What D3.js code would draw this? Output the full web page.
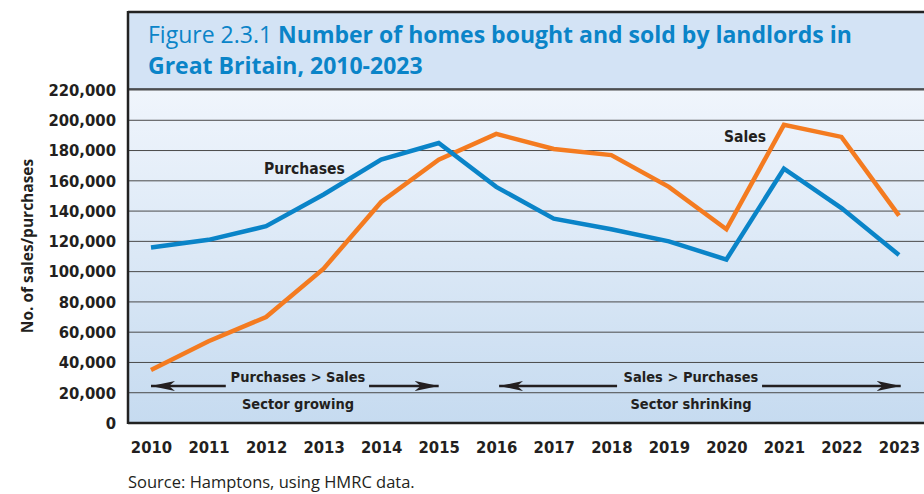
<!DOCTYPE html>
<html>
<head>
<meta charset="utf-8">
<script src="https://cdn.jsdelivr.net/npm/d3@7"></script>
<style>
  body { margin: 0; background: #fff; }
  svg { display: block; }
</style>
</head>
<body>
<script>
// values
var years = [2010, 2011, 2012, 2013, 2014, 2015, 2016, 2017, 2018, 2019, 2020, 2021, 2022, 2023];
var purchases = [116000, 121000, 130000, 151000, 174000, 185000, 156000, 135000, 128000, 120000, 108000, 168000, 142000, 111000];
var sales = [35000, 54000, 70000, 102000, 146000, 174000, 191000, 181000, 177000, 156000, 128000, 197000, 189000, 137000];
var yTicks = [0, 20000, 40000, 60000, 80000, 100000, 120000, 140000, 160000, 180000, 200000, 220000];

var W = 924, H = 494;
var frame = {left: 128, top: 12, headBottom: 89, bottom: 423};
var narrow = "'DejaVu Sans Condensed', 'Liberation Sans Narrow', sans-serif";
var sans = "'Open Sans', 'Noto Sans', sans-serif";

var svg = d3.select("body").append("svg").attr("width", W).attr("height", H);

var defs = svg.append("defs");
var grad = defs.append("linearGradient").attr("id", "bg").attr("x1", 0).attr("y1", 0).attr("x2", 0).attr("y2", 1);
grad.append("stop").attr("offset", "0%").attr("stop-color", "#f0f5fc");
grad.append("stop").attr("offset", "100%").attr("stop-color", "#c6dbf0");

var x = d3.scaleLinear().domain([2010, 2023]).range([151, 899]);
var y = d3.scaleLinear().domain([0, 220000]).range([frame.bottom, frame.headBottom + 1]);

// header band
svg.append("rect").attr("x", frame.left).attr("y", frame.top)
  .attr("width", W - frame.left + 5).attr("height", frame.headBottom - frame.top)
  .attr("fill", "#d3e3f5");

// plot background
svg.append("rect").attr("x", frame.left).attr("y", frame.headBottom)
  .attr("width", W - frame.left + 5).attr("height", frame.bottom - frame.headBottom)
  .attr("fill", "url(#bg)");

// gridlines
svg.append("g").selectAll("line").data(yTicks.slice(1)).join("line")
  .attr("x1", frame.left).attr("x2", W)
  .attr("y1", function(d) { return y(d); }).attr("y2", function(d) { return y(d); })
  .attr("stroke", "#4a4a4a").attr("stroke-width", 1);

// frame lines
svg.append("line").attr("x1", frame.left).attr("x2", W).attr("y1", frame.top).attr("y2", frame.top)
  .attr("stroke", "#222").attr("stroke-width", 2.5);
svg.append("line").attr("x1", frame.left).attr("x2", W).attr("y1", frame.headBottom).attr("y2", frame.headBottom)
  .attr("stroke", "#333").attr("stroke-width", 1.5);
svg.append("line").attr("x1", frame.left).attr("x2", W).attr("y1", frame.bottom).attr("y2", frame.bottom)
  .attr("stroke", "#222").attr("stroke-width", 2.5);
svg.append("line").attr("x1", frame.left).attr("x2", frame.left).attr("y1", frame.top - 1).attr("y2", frame.bottom + 1)
  .attr("stroke", "#222").attr("stroke-width", 2.5);

// title
var title = svg.append("text").attr("x", 148).attr("y", 43)
  .attr("font-family", sans).attr("font-size", 23).attr("fill", "#0a84c8");
title.append("tspan").attr("font-weight", 400).text("Figure 2.3.1 ");
title.append("tspan").attr("font-weight", 700).text("Number of homes bought and sold by landlords in");
svg.append("text").attr("x", 148).attr("y", 74)
  .attr("font-family", sans).attr("font-size", 23).attr("font-weight", 700).attr("fill", "#0a84c8")
  .text("Great Britain, 2010-2023");

// y axis labels
var yAxis = d3.axisLeft(y).tickValues(yTicks).tickSize(0).tickPadding(12)
  .tickFormat(function(d) { return d === 0 ? "0" : d3.format(",")(d); });
var gy = svg.append("g").attr("transform", "translate(" + frame.left + ",0)").call(yAxis);
gy.select(".domain").remove();
gy.selectAll("text").attr("font-family", narrow).attr("font-size", 16.5).attr("font-weight", 700).attr("fill", "#231f20");

// x axis labels
var xAxis = d3.axisBottom(x).tickValues(years).tickSize(0).tickPadding(18).tickFormat(d3.format("d"));
var gx = svg.append("g").attr("transform", "translate(0," + frame.bottom + ")").call(xAxis);
gx.select(".domain").remove();
gx.selectAll("text").attr("font-family", narrow).attr("font-size", 16.5).attr("font-weight", 700).attr("fill", "#231f20");

// y axis title
svg.append("text").attr("transform", "translate(33,246) rotate(-90)")
  .attr("text-anchor", "middle").attr("font-family", sans).attr("font-size", 15.5).attr("font-weight", 700)
  .attr("fill", "#231f20").text("No. of sales/purchases");

// lines
var line = d3.line().x(function(d, i) { return x(years[i]); }).y(function(d) { return y(d); });
svg.append("path").datum(sales).attr("d", line).attr("fill", "none")
  .attr("stroke", "#f47b20").attr("stroke-width", 4.5).attr("stroke-linejoin", "miter");
svg.append("path").datum(purchases).attr("d", line).attr("fill", "none")
  .attr("stroke", "#0a84c8").attr("stroke-width", 4.5).attr("stroke-linejoin", "miter");

// series labels
svg.append("text").attr("x", 264).attr("y", 174).attr("font-family", narrow).attr("font-size", 15.5)
  .attr("font-weight", 700).attr("fill", "#231f20").text("Purchases");
svg.append("text").attr("x", 724).attr("y", 142).attr("font-family", narrow).attr("font-size", 15.5)
  .attr("font-weight", 700).attr("fill", "#231f20").text("Sales");

// arrow annotations
defs.append("marker").attr("id", "ah").attr("viewBox", "0 0 24 10").attr("refX", 24).attr("refY", 5)
  .attr("markerWidth", 24).attr("markerHeight", 10).attr("markerUnits", "userSpaceOnUse").attr("orient", "auto")
  .append("path").attr("d", "M0,0 L24,5 L0,10 L6,5 Z").attr("fill", "#231f20");

var arrows = [
  {from: 2011.3, to: 2010, y: 386},
  {from: 2013.79, to: 2015, y: 386},
  {from: 2018.1, to: 2016.05, y: 386},
  {from: 2020.62, to: 2023.03, y: 386}
];
svg.append("g").selectAll("line").data(arrows).join("line")
  .attr("x1", function(d) { return x(d.from); }).attr("x2", function(d) { return x(d.to); })
  .attr("y1", function(d) { return d.y; }).attr("y2", function(d) { return d.y; })
  .attr("stroke", "#231f20").attr("stroke-width", 2.5).attr("marker-end", "url(#ah)");

var notes = [
  {t: "Purchases > Sales", cx: 298, y: 382},
  {t: "Sector growing", cx: 298, y: 409},
  {t: "Sales > Purchases", cx: 691, y: 382},
  {t: "Sector shrinking", cx: 691, y: 409}
];
svg.append("g").selectAll("text").data(notes).join("text")
  .attr("x", function(d) { return d.cx; }).attr("y", function(d) { return d.y; })
  .attr("text-anchor", "middle").attr("font-family", narrow).attr("font-size", 14.5).attr("font-weight", 700)
  .attr("fill", "#231f20").text(function(d) { return d.t; });

// source
svg.append("text").attr("x", 128).attr("y", 488).attr("font-family", sans).attr("font-size", 16.5)
  .attr("fill", "#231f20").text("Source: Hamptons, using HMRC data.");
</script>
</body>
</html>
